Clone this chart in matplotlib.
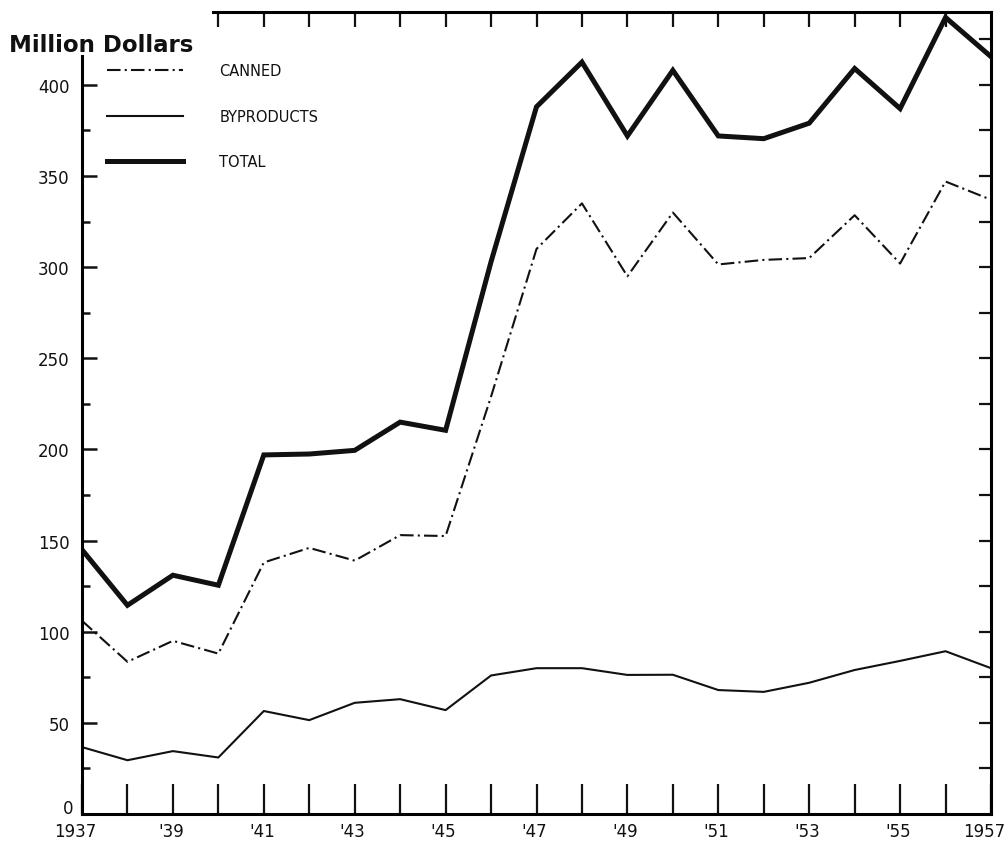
import numpy as np
import matplotlib
matplotlib.use('Agg')
import matplotlib.pyplot as plt
import matplotlib.transforms as mtransforms

# Data (million dollars)
years = np.arange(1937, 1958)
canned = [106, 83.5, 95, 88, 138, 146, 139, 153, 152.5, 229, 310,
          335, 295, 330, 301.5, 304, 305, 328.5, 302, 347, 337]
byproducts = [36.7, 29.5, 34.5, 31, 56.5, 51.5, 61, 63, 57, 76, 80,
              80, 76.3, 76.4, 68, 67, 72, 79, 84, 89.3, 80]
total = [145, 114.5, 131, 125.5, 197, 197.5, 199.5, 215, 210.5, 303, 388,
         412.5, 372, 408, 372, 370.5, 379, 409, 387, 437, 415.5]

xtick_lab = ['1937', '', "'39", '', "'41", '', "'43", '', "'45", '', "'47", '',
             "'49", '', "'51", '', "'53", '', "'55", '', '1957']
ytick_major = list(range(0, 401, 50))

ink = '#111111'
plt.rcParams['font.family'] = 'DejaVu Sans'

fig = plt.figure(figsize=(10.07, 8.45), dpi=100)
ax = fig.add_axes([82 / 1007, 1 - 815 / 845, (991 - 82) / 1007, (815 - 13) / 845])

ax.plot(years, canned, color=ink, lw=1.5, ls=(0, (6.5, 2, 1, 2)), label='CANNED')
ax.plot(years, byproducts, color=ink, lw=1.5, label='BYPRODUCTS')
ax.plot(years, total, color=ink, lw=3.6, solid_joinstyle='miter', label='TOTAL')

ax.set_xlim(1937, 1957)
ax.set_ylim(0, 440)

# left axis
ax.spines['left'].set_bounds(0, 416)
ax.spines['left'].set_linewidth(2.2)
ax.spines['bottom'].set_linewidth(2.2)
ax.spines['top'].set_visible(False)
ax.spines['right'].set_visible(False)
ax.set_yticks(ytick_major)
ax.set_yticks(list(range(25, 400, 50)), minor=True)
ax.tick_params(axis='y', which='major', direction='in', length=11, width=1.8,
               labelsize=12, pad=9, colors=ink)
ax.tick_params(axis='y', which='minor', direction='in', length=6, width=1.8, colors=ink)
ax.yaxis.get_major_ticks()[0].tick1line.set_visible(False)
zero_lab = ax.get_yticklabels()[0]
zero_lab.set_transform(zero_lab.get_transform() +
                       mtransforms.ScaledTranslation(4 / 100, 8 / 100, fig.dpi_scale_trans))

# bottom axis: long inward ticks for each year, labels every other year
ax.set_xticks(list(years))
ax.set_xticklabels(xtick_lab)
ax.tick_params(axis='x', direction='in', length=21.5, width=1.6, labelsize=12,
               pad=6, colors=ink)
xt = ax.xaxis.get_major_ticks()
xt[0].tick1line.set_visible(False)
xt[-1].tick1line.set_visible(False)
xlabels = ax.get_xticklabels()
for i, lab in enumerate(xlabels):
    dx = -7 if i in (0, len(xlabels) - 1) else -2
    lab.set_transform(lab.get_transform() +
                      mtransforms.ScaledTranslation(dx / 100, 0, fig.dpi_scale_trans))

# top axis
axt = ax.twiny()
axt.set_xlim(1937, 1957)
for s in ['left', 'right', 'bottom']:
    axt.spines[s].set_visible(False)
axt.spines['top'].set_bounds(1939.88, 1957)
axt.spines['top'].set_linewidth(2.2)
axt.set_xticks(list(range(1940, 1957)))
axt.tick_params(axis='x', direction='in', length=11, width=1.6, labeltop=False, colors=ink)

# right axis
axr = ax.twinx()
axr.set_ylim(0, 440)
for s in ['left', 'top', 'bottom']:
    axr.spines[s].set_visible(False)
axr.spines['right'].set_linewidth(2.2)
axr.set_yticks(list(range(25, 426, 25)))
axr.tick_params(axis='y', direction='in', length=8.5, width=1.6, labelright=False, colors=ink)

fig.text(9 / 1007, 1 - 52 / 845, 'Million Dollars', fontsize=16.5, fontweight='bold',
         color=ink, va='baseline', ha='left')

ax.legend(loc='upper left', bbox_to_anchor=(107 / 1007, 1 - 64 / 845),
          bbox_transform=fig.transFigure, frameon=False, fontsize=10.5,
          handlelength=5.2, handletextpad=2.5, labelspacing=2.1,
          borderpad=0, borderaxespad=0, labelcolor=ink)

fig.savefig('out.png', dpi=100, facecolor='white')
